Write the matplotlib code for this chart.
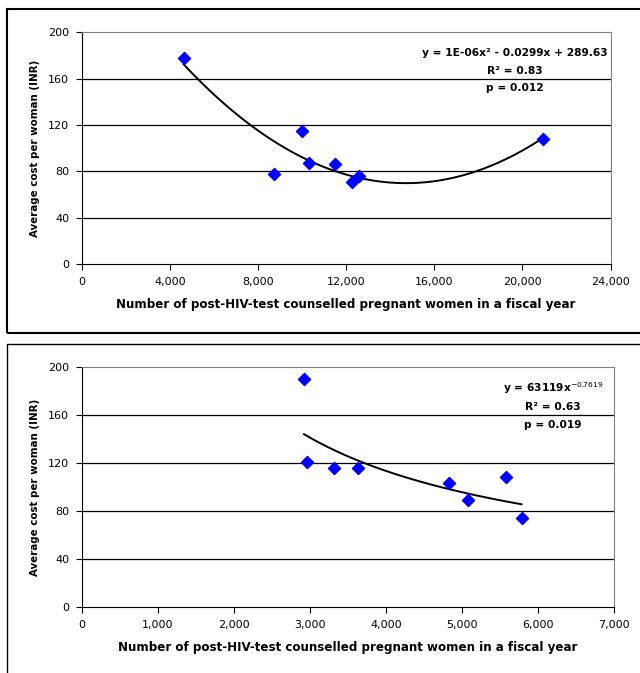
import numpy as np
import matplotlib
matplotlib.use("Agg")
import matplotlib.pyplot as plt
from matplotlib.patches import Rectangle
from matplotlib.ticker import FuncFormatter

plt.rcParams["font.family"] = ["DejaVu Sans"]

# top panel: quadratic fit
women_top = [4630, 8740, 10020, 10310, 11480, 12260, 12590, 20930]
cost_top = [177.6, 77.6, 115.2, 87.4, 86.8, 71.0, 76.1, 108.0]

# bottom panel: power fit
women_bottom = [2924, 2961, 3321, 3632, 4828, 5075, 5574, 5783]
cost_bottom = [190.6, 121.1, 116.4, 116.4, 103.9, 89.4, 108.6, 74.2]

y_ticks = [0, 40, 80, 120, 160, 200]
x_ticks_top = [0, 4000, 8000, 12000, 16000, 20000, 24000]
x_ticks_bottom = [0, 1000, 2000, 3000, 4000, 5000, 6000, 7000]

x_label = "Number of post-HIV-test counselled pregnant women in a fiscal year"
y_label = "Average cost per woman (INR)"

top_lines = ["y = 1E-06x² - 0.0299x + 289.63", "R² = 0.83", "p = 0.012"]
bottom_lines = ["y = 63119x$^{-0.7619}$", "R² = 0.63", "p = 0.019"]


def style_axes(ax, x_ticks):
    ax.set_ylim(0, 200)
    ax.set_xlim(x_ticks[0], x_ticks[-1])
    ax.set_yticks(y_ticks)
    ax.set_xticks(x_ticks)
    ax.xaxis.set_major_formatter(FuncFormatter(lambda v, p: f"{int(v):,}"))
    for val in y_ticks[1:-1]:
        ax.axhline(val, color="black", lw=0.9, zorder=1)
    ax.spines["left"].set_color("black")
    ax.spines["bottom"].set_color("black")
    ax.spines["top"].set_color("#808080")
    ax.spines["right"].set_color("#808080")
    ax.tick_params(labelsize=8, length=4, width=0.8, pad=5)
    ax.set_xlabel(x_label, fontsize=8.6, fontweight="bold", labelpad=8)
    ax.set_ylabel(y_label, fontsize=7.4, fontweight="bold", labelpad=6)


def add_fit_text(ax, lines, x, ys):
    for line, y in zip(lines, ys):
        ax.text(x, y, line, transform=ax.transAxes, ha="center", va="center",
                fontsize=7.7, fontweight="bold")


fig = plt.figure(figsize=(6.4, 6.73), dpi=100)

# outer frames
fig.patches.append(Rectangle((7 / 640, 1 - 333 / 673), 1.0, 324 / 673,
                             transform=fig.transFigure, fill=False, lw=1.5, ec="black"))
fig.patches.append(Rectangle((7 / 640, -0.02), 1.0, 1 - 343.5 / 673 + 0.02,
                             transform=fig.transFigure, fill=False, lw=1.0, ec="black"))

# top chart
ax1 = fig.add_axes([0.1275, 0.6073, 0.8266, 0.3447])
style_axes(ax1, x_ticks_top)
ax1.scatter(women_top, cost_top, marker="D", s=38, color="#0000FF", zorder=3)
coef = np.polyfit(women_top, cost_top, 2)
xs = np.linspace(min(women_top), max(women_top), 200)
ax1.plot(xs, np.polyval(coef, xs), color="black", lw=1.4, zorder=2)
add_fit_text(ax1, top_lines, 0.819, [0.911, 0.835, 0.760])

# bottom chart
ax2 = fig.add_axes([0.1275, 0.0976, 0.832, 0.3566])
style_axes(ax2, x_ticks_bottom)
ax2.scatter(women_bottom, cost_bottom, marker="D", s=38, color="#0000FF", zorder=3)
b, log_a = np.polyfit(np.log(women_bottom), np.log(cost_bottom), 1)
xs = np.linspace(min(women_bottom), max(women_bottom), 200)
ax2.plot(xs, np.exp(log_a) * xs ** b, color="black", lw=1.4, zorder=2)
add_fit_text(ax2, bottom_lines, 0.885, [0.914, 0.836, 0.760])

fig.savefig("out.png", dpi=100)
